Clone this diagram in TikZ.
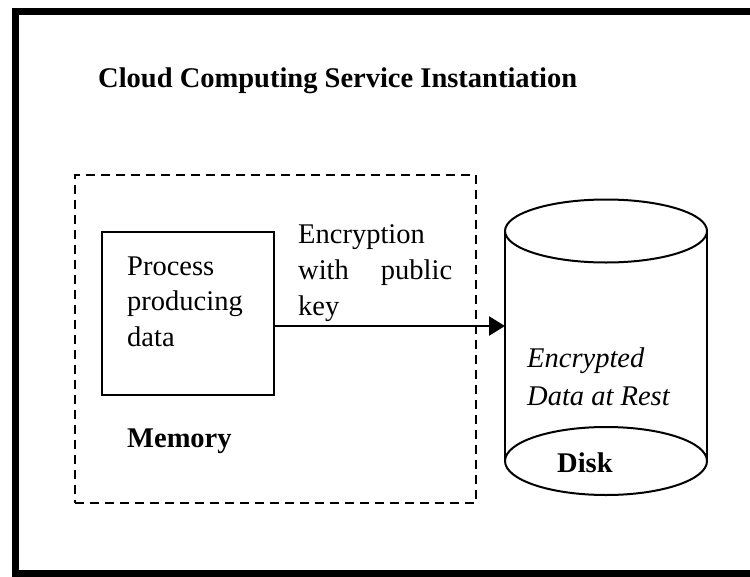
\documentclass[tikz,border=0pt]{standalone}
\usepackage{fontspec}
\setmainfont{Liberation Serif}
\usetikzlibrary{arrows.meta}
\begin{document}
\begin{tikzpicture}[x=1pt,y=-1pt,
  txt/.style={font=\fontsize{28.5}{36}\selectfont, inner sep=0pt, align=left, anchor=base west},
  box/.style={draw, line width=2pt, inner sep=0pt, outer sep=0pt},
  membox/.style={box, dash pattern=on 9pt off 6pt},
  cyl/.style={line width=2pt},
  arr/.style={line width=2.5pt, -{Triangle[length=16pt,width=19pt]}}]
\useasboundingbox (0,0) rectangle (750,576);
\clip (0,0) rectangle (750,576);
\draw[line width=7pt] (760,11) -- (15.5,11) -- (15.5,573) -- (760,573);
\node[txt] (title) at (98,87) {\bfseries Cloud Computing Service Instantiation};
\node[membox, minimum width=401pt, minimum height=328pt] (mem) at (275.5,339) {};
\node[box, minimum width=172pt, minimum height=163pt] (proc) at (188,313.5) {};
\node[txt, font=\fontsize{28.5}{35.5}\selectfont] (proctext) at (127,346) {Process\\producing\\data};
\node[txt] (memlabel) at (127,447) {\bfseries Memory};
\node[txt] (enc) at (298,315) {Encryption\\\makebox[154pt][s]{with\hfill public}\\key};
\node[inner sep=0pt, outer sep=0pt, minimum width=202pt, minimum height=230pt] (disk) at (606,346) {};
\draw[cyl] (disk.north west) -- (disk.south west) (disk.north east) -- (disk.south east);
\draw[cyl] (disk.north) ellipse [x radius=101, y radius=31.5];
\draw[cyl] (disk.south) ellipse [x radius=101, y radius=34];
\node[txt, font=\fontsize{28.5}{38}\selectfont\itshape] (data) at (527,405) {Encrypted\\Data at Rest};
\node[txt] (disklabel) at (557,472) {\bfseries Disk};
\coordinate (ay) at (0,326);
\draw[arr] (proc.east |- ay) -- (disk.west |- ay);
\end{tikzpicture}
\end{document}
